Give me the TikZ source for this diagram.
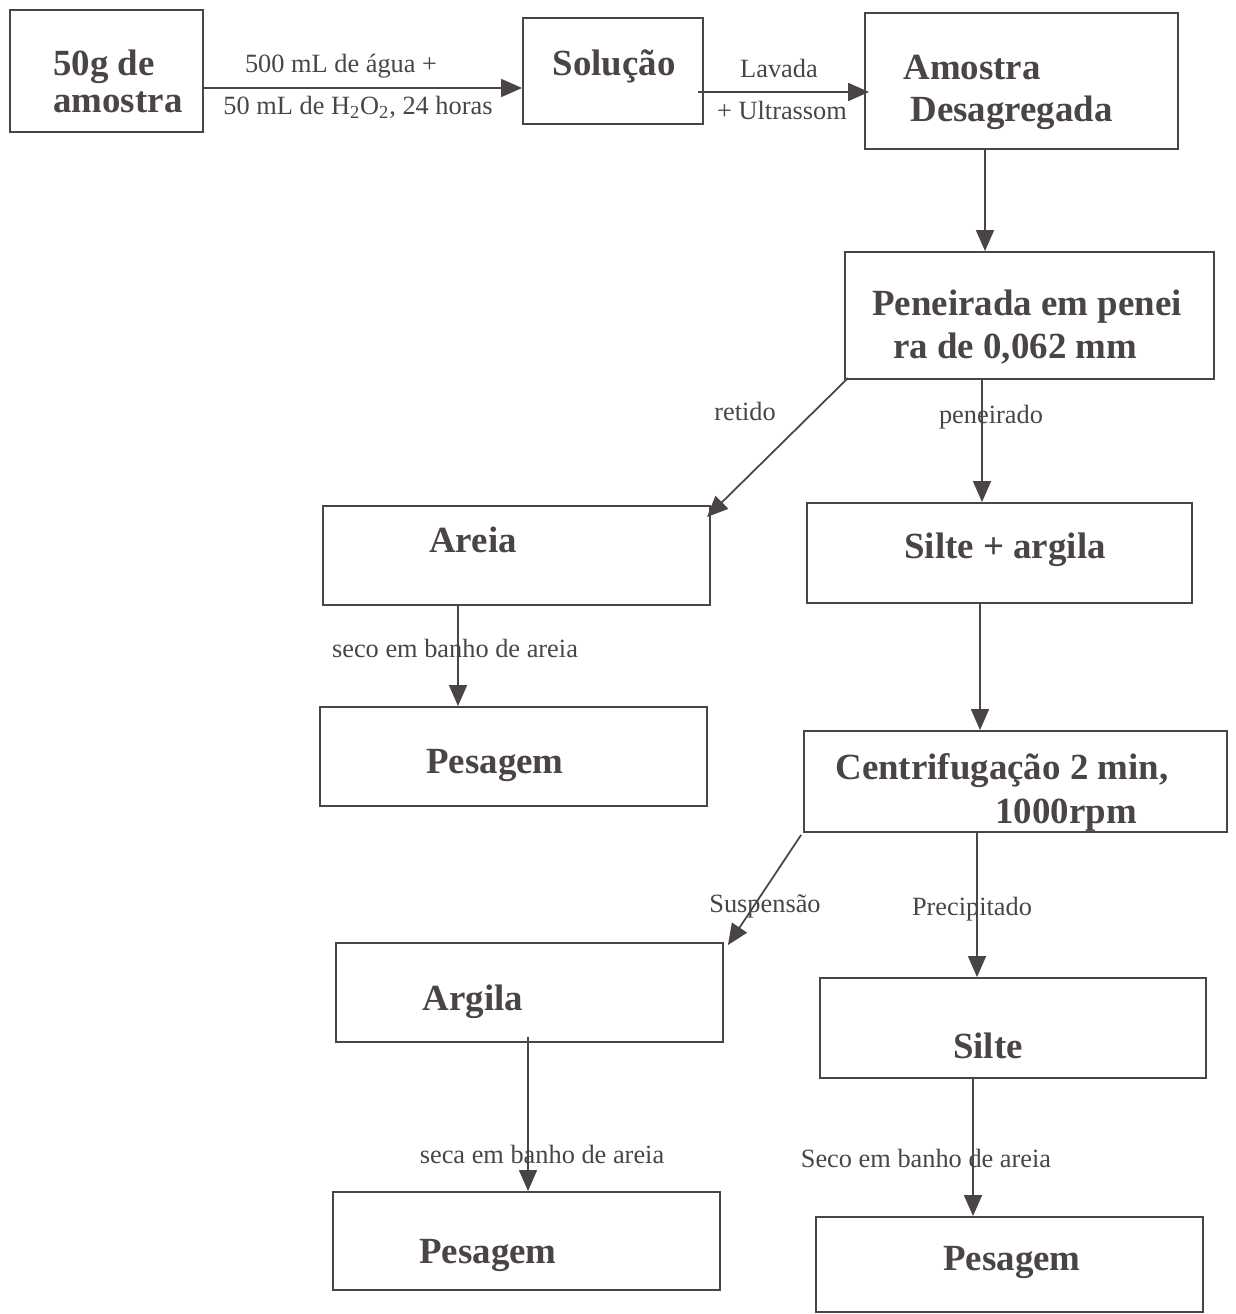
\documentclass[tikz,border=0pt]{standalone}
\usepackage{fontspec}
\setmainfont{Liberation Serif}
\usetikzlibrary{arrows.meta,calc}
\definecolor{ink}{RGB}{74,68,71}

\begin{document}
\begin{tikzpicture}[x=0.02cm,y=-0.02cm,
  box/.style 2 args={draw=ink,line width=1.1pt,minimum width=#1,minimum height=#2,inner sep=0pt},
  big/.style={text=ink,inner sep=0pt,font=\fontsize{21}{#1}\selectfont\bfseries},
  big/.default=24,
  lbl/.style={text=ink,inner sep=0pt,anchor=base,font=\fontsize{15}{18}\selectfont},
  arr/.style={draw=ink,line width=1pt,-{Triangle[length=0.42cm,width=0.36cm]}}]
\useasboundingbox (0,0) rectangle (1235,1314);

% boxes
\node[box={3.86cm}{2.44cm}] (s50) at (106.5,71) {};
\node[box={3.60cm}{2.12cm}] (sol) at (613,71) {};
\node[box={6.26cm}{2.72cm}] (desag) at (1021.5,81) {};
\node[box={7.38cm}{2.54cm}] (pen) at (1029.5,315.5) {};
\node[box={7.74cm}{1.98cm}] (areia) at (516.5,555.5) {};
\node[box={7.70cm}{2.00cm}] (silarg) at (999.5,553) {};
\node[box={7.74cm}{1.98cm}] (pes1) at (513.5,756.5) {};
\node[box={8.46cm}{2.02cm}] (centr) at (1015.5,781.5) {};
\node[box={7.74cm}{1.98cm}] (argila) at (529.5,992.5) {};
\node[box={7.72cm}{2.00cm}] (silte) at (1013,1028) {};
\node[box={7.74cm}{1.96cm}] (pes2) at (526.5,1241) {};
\node[box={7.74cm}{1.90cm}] (pes3) at (1009.5,1264.5) {};

% box texts
\node[big=21,anchor=north west,align=left] (s50t) at (53,50) {50g de\\amostra};
\node[big,anchor=base] (solt) at (614,76) {Solução};
\node[big,anchor=north west,align=left] (desagt) at (903,55) {Amostra\\\hspace*{0.14cm}Desagregada};
\node[big,anchor=north west,align=left] (pent) at (872,290) {Peneirada em penei\\\hspace*{0.42cm}ra de 0,062 mm};
\node[big,anchor=base] (areiat) at (473,552) {Areia};
\node[big,anchor=base] (silargt) at (1005,558) {Silte + argila};
\node[big,anchor=base] (pes1t) at (495,773) {Pesagem};
\node[big=25,anchor=north west,align=left] (centrt) at (835,753) {Centrifugação 2 min,\\\hspace*{3.2cm}1000rpm};
\node[big,anchor=base] (argilat) at (473,1010) {Argila};
\node[big,anchor=base] (siltet) at (988,1058) {Silte};
\node[big,anchor=base] (pes2t) at (488,1263) {Pesagem};
\node[big,anchor=base] (pes3t) at (1012,1270) {Pesagem};

% connectors
\draw[arr] ($(s50.east)+(0,17)$) -- ($(sol.west)+(0,17)$);
\draw[arr] ($(sol.east)+(-6,21)$) -- ($(desag.west)+(5,11)$);
\draw[arr] ($(desag.south)+(-36.5,0)$) -- ($(pen.north)+(-44.5,0)$);
\draw[arr] ($(pen.south west)+(4,-2)$) -- ($(areia.north east)+(-4,12)$);
\draw[arr] ($(pen.south)+(-47.5,0)$) -- ($(silarg.north)+(-17.5,0)$);
\draw[arr] ($(areia.south)+(-58.5,0)$) -- ($(pes1.north)+(-55.5,0)$);
\draw[arr] ($(silarg.south)+(-19.5,0)$) -- ($(centr.north)+(-35.5,0)$);
\draw[arr] ($(centr.south west)+(-2,2)$) -- ($(argila.north east)+(4,3)$);
\draw[arr] ($(centr.south)+(-38.5,0)$) -- ($(silte.north)+(-36,0)$);
\draw[arr] ($(argila.south)+(-1.5,-6)$) -- ($(pes2.north)+(1.5,0)$);
\draw[arr] ($(silte.south)+(-40,0)$) -- ($(pes3.north)+(-36.5,0)$);

% connector labels
\node[lbl] (l1a) at (341,73) {500 mL de água +};
\node[lbl] (l1b) at (358,115) {50 mL de H\textsubscript{2}O\textsubscript{2}, 24 horas};
\node[lbl] (l2a) at (779,78) {Lavada};
\node[lbl] (l2b) at (782,120) {+ Ultrassom};
\node[lbl] (l3) at (745,420) {retido};
\node[lbl] (l4) at (991,423) {peneirado};
\node[lbl] (l5) at (455,657) {seco em banho de areia};
\node[lbl] (l6) at (765,912) {Suspensão};
\node[lbl] (l7) at (972,915) {Precipitado};
\node[lbl] (l8) at (542,1163) {seca em banho de areia};
\node[lbl] (l9) at (926,1167) {Seco em banho de areia};
\end{tikzpicture}
\end{document}
